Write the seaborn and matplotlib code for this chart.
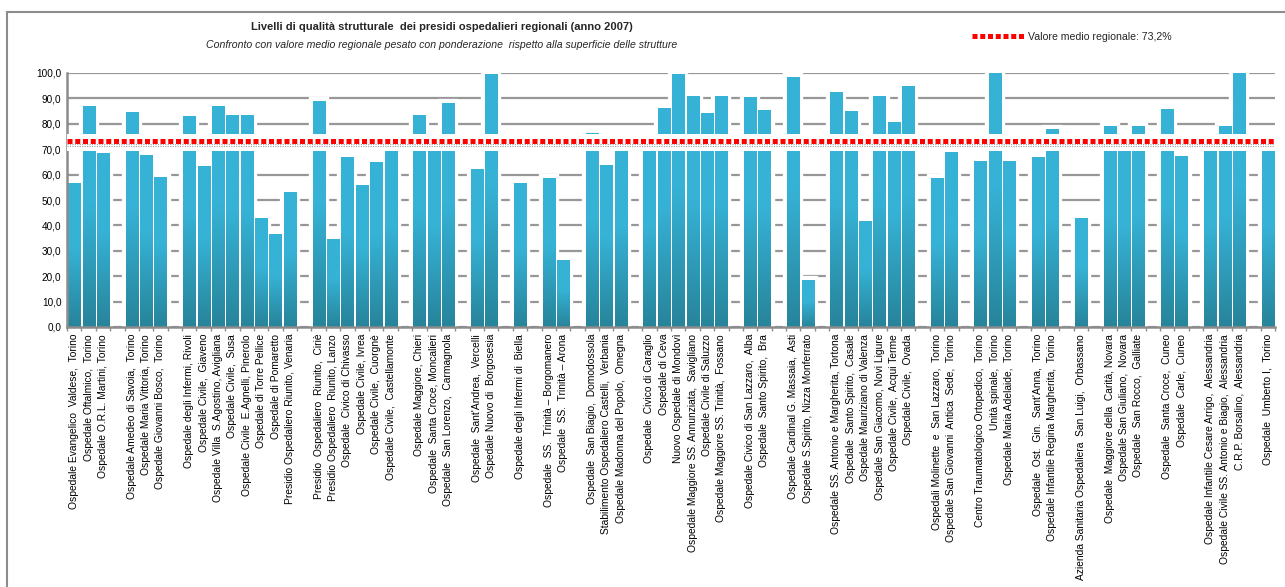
import numpy as np
import pandas as pd
import matplotlib
matplotlib.use("Agg")
import matplotlib.pyplot as plt
import seaborn as sns
from matplotlib.patches import Rectangle
from matplotlib.colors import LinearSegmentedColormap
from matplotlib.ticker import FuncFormatter

# ---------------- data ----------------
hospitals = [
    "Ospedale Evangelico  Valdese,  Torino", "Ospedale Oftalmico,  Torino", "Ospedale O.R.L. Martini, Torino",
    "Ospedale Amedeo di Savoia,  Torino", "Ospedale Maria Vittoria, Torino", "Ospedale Giovanni Bosco,  Torino",
    "Ospedale degli Infermi, Rivoli", "Ospedale Civile,  Giaveno", "Ospedale Villa  S.Agostino, Avigliana",
    "Ospedale Civile,  Susa", "Ospedale Civile  E.Agnelli, Pinerolo", "Ospedale di Torre Pellice",
    "Ospedale di Pomaretto", "Presidio Ospedaliero Riunito, Venaria",
    "Presidio  Ospedaliero  Riunito,  Ciriè", "Presidio Ospedaliero  Riunito, Lanzo",
    "Ospedale  Civico di Chivasso", "Ospedale Civile, Ivrea", "Ospedale Civile,  Cuorgnè",
    "Ospedale Civile,  Castellamonte",
    "Ospedale Maggiore, Chieri", "Ospedale  Santa Croce, Moncalieri", "Ospedale  San Lorenzo,  Carmagnola",
    "Ospedale  Sant'Andrea,  Vercelli", "Ospedale Nuovo di  Borgosesia",
    "Ospedale degli Infermi di  Biella",
    "Ospedale  SS.  Trinità – Borgomanero", "Ospedale  SS.  Trinità – Arona",
    "Ospedale  San Biagio,  Domodossola", "Stabilimento Ospedaliero Castelli,  Verbania",
    "Ospedale Madonna del Popolo,  Omegna",
    "Ospedale  Civico di Caraglio", "Ospedale di Ceva", "Nuovo Ospedale di Mondovì",
    "Ospedale Maggiore SS. Annunziata,  Savigliano", "Ospedale Civile di Saluzzo",
    "Ospedale Maggiore SS. Trinità,  Fossano",
    "Ospedale Civico di San Lazzaro,  Alba", "Ospedale  Santo Spirito,  Bra",
    "Ospedale Cardinal G. Massaia,  Asti", "Ospedale S.Spirito, Nizza Monferrato",
    "Ospedale SS. Antonio e Margherita, Tortona", "Ospedale  Santo Spirito,  Casale",
    "Ospedale Mauriziano di Valenza", "Ospedale San Giacomo, Novi Ligure",
    "Ospedale Civile,  Acqui Terme", "Ospedale Civile,  Ovada",
    "Ospedali Molinette  e  San Lazzaro,  Torino", "Ospedale San Giovanni  Antica  Sede,  Torino",
    "Centro Traumatologico Ortopedico,  Torino", "Unità spinale,  Torino", "Ospedale Maria Adelaide,  Torino",
    "Ospedale  Ost.  Gin.  Sant'Anna,  Torino", "Ospedale Infantile Regina Margherita,  Torino",
    "Azienda Sanitaria Ospedaliera  San Luigi,  Orbassano",
    "Ospedale  Maggiore della  Carità, Novara", "Ospedale San Giuliano,  Novara", "Ospedale  San Rocco,  Galliate",
    "Ospedale  Santa Croce,  Cuneo", "Ospedale  Carle,  Cuneo",
    "Ospedale Infantile Cesare Arrigo,  Alessandria", "Ospedale Civile SS. Antonio e Biagio,  Alessandria",
    "C.R.P. Borsalino,  Alessandria",
    "Ospedale  Umberto I,  Torino",
]

quality = [
    56.6, 87.2, 68.4,
    84.8, 67.6, 59.0,
    82.9, 63.3, 87.2, 83.3, 83.3, 42.9, 36.6, 53.1,
    88.8, 34.6, 66.8, 55.8, 64.8, 72.0,
    83.3, 72.0, 88.0,
    62.1, 99.7,
    56.6,
    58.6, 26.4,
    76.2, 63.7, 72.0,
    72.0, 86.4, 99.7, 91.1, 84.4, 91.1,
    90.7, 85.6,
    98.6, 18.4,
    92.7, 85.2, 41.7, 91.1, 80.9, 95.0,
    58.6, 68.8,
    65.2, 100.0, 65.2,
    66.8, 77.8,
    42.9,
    79.0, 72.0, 79.3,
    86.0, 67.2,
    72.0, 79.0, 100.0,
    72.0,
]

group_sizes = [3, 3, 8, 6, 3, 2, 1, 2, 3, 6, 2, 2, 6, 2, 3, 2, 1, 3, 2, 3, 1]

regional_mean = 73.2
y_ticks = [0, 10, 20, 30, 40, 50, 60, 70, 80, 90, 100]

title = "Livelli di qualità strutturale  dei presidi ospedalieri regionali (anno 2007)"
subtitle = "Confronto con valore medio regionale pesato con ponderazione  rispetto alla superficie delle strutture"
legend_label = "Valore medio regionale: 73,2%"

# ---------------- layout of category slots (with blank gaps between groups) ----------------
order = []
i = 0
for g, n in enumerate(group_sizes):
    if g > 0:
        order.append(f"__gap{g}")
    order.extend(hospitals[i:i + n])
    i += n

df = pd.DataFrame({"ospedale": hospitals, "valore": quality})

sns.set_theme(style="white")
plt.rcParams["font.family"] = ["Liberation Sans", "DejaVu Sans"]

W, H = 1285, 587
fig = plt.figure(figsize=(W / 100, H / 100), dpi=100)
fig.patch.set_facecolor("white")
ax = fig.add_axes([67 / W, 1 - 327 / H, (1275 - 67) / W, (327 - 73) / H])

BAR_LIGHT = "#36B2D6"
BAR_DARK = "#27849A"
GRID = "#979797"

# white halo behind bars (interrupts gridlines around bars)
sns.barplot(data=df, x="ospedale", y="valore", order=order, color="white", width=0.84,
            linewidth=6, edgecolor="white", errorbar=None, saturation=1, ax=ax, zorder=1.5)
n_halo = len(ax.patches)
sns.barplot(data=df, x="ospedale", y="valore", order=order, color=BAR_LIGHT, width=0.84,
            linewidth=0, errorbar=None, saturation=1, ax=ax, zorder=2)

cmap = LinearSegmentedColormap.from_list("bar", [(0, BAR_DARK), (0.55, BAR_LIGHT), (1, BAR_LIGHT)])
grad = np.linspace(0, 1, 256).reshape(-1, 1)
for p in ax.patches[n_halo:]:
    x0, w, h = p.get_x(), p.get_width(), p.get_height()
    if h <= 0:
        continue
    im = ax.imshow(grad, extent=[x0, x0 + w, 0, h], origin="lower", cmap=cmap,
                   aspect="auto", interpolation="bilinear", zorder=2.1)
    im.set_clip_path(p)

# axis break band (between ~69.4 and ~75.8)
ax.axhspan(69.4, 75.8, color="white", lw=0, zorder=3)
ax.axhline(72.0, color="#a0a0a0", lw=0.8, ls=(0, (1, 1.2)), zorder=3.5)
ax.axhline(71.3, color="#a0a0a0", lw=0.8, ls=(0, (1, 1.2)), zorder=3.5)
mean_line = ax.axhline(regional_mean, color="#FF0000", lw=3.6, ls=(0, (1, 0.55)),
                       zorder=4, label=legend_label, solid_capstyle="butt", dash_capstyle="butt")

ax.set_xlim(-0.5, len(order) - 0.5)
ax.set_ylim(0, 100)
ax.set_yticks(y_ticks)
ax.yaxis.set_major_formatter(FuncFormatter(lambda v, _: f"{v:.1f}".replace(".", ",")))
ax.set_axisbelow(True)
ax.yaxis.grid(True, color=GRID, lw=1.6)
ax.xaxis.grid(False)

ax.set_xticks(range(len(order)))
ax.set_xticklabels(["" if o.startswith("__gap") else o for o in order],
                   rotation=90, fontsize=7.4, va="top", ha="center")
ax.set_xticks(np.arange(-0.5, len(order), 1), minor=True)
ax.tick_params(axis="x", which="major", length=0, pad=5, colors="black")
ax.tick_params(axis="x", which="minor", bottom=True, length=3, width=1, color="#8c8c8c")
ax.tick_params(axis="y", which="major", length=0, pad=4, labelsize=7.2, colors="black")
ax.set_xlabel("")
ax.set_ylabel("")

for s in ["top", "right"]:
    ax.spines[s].set_visible(False)
for s in ["left", "bottom"]:
    ax.spines[s].set_color("#8c8c8c")
    ax.spines[s].set_linewidth(1.8)

# titles
fig.text(442 / W, 1 - 27 / H, title, ha="center", va="center", fontsize=8, fontweight="bold",
         family=["Liberation Sans Narrow", "Liberation Sans", "DejaVu Sans"])
fig.text(442 / W, 1 - 45 / H, subtitle, ha="center", va="center", fontsize=7.6, style="italic",
         family=["Liberation Sans Narrow", "Liberation Sans", "DejaVu Sans"])

leg = fig.legend(handles=[mean_line], labels=[legend_label], loc="center left",
                 bbox_to_anchor=(968 / W, 1 - 37 / H), frameon=False, fontsize=7.6,
                 handlelength=5.0, handletextpad=0.3, borderaxespad=0)
for t in leg.get_texts():
    t.set_family(["Liberation Sans Narrow", "Liberation Sans", "DejaVu Sans"])

# outer frame of the chart box
fig.add_artist(Rectangle((7 / W, -0.05), 1.2, (1 - 12 / H) + 0.05, transform=fig.transFigure,
                         fill=False, ec="#8c8c8c", lw=1.5))

fig.savefig("out.png", dpi=100, facecolor="white")
